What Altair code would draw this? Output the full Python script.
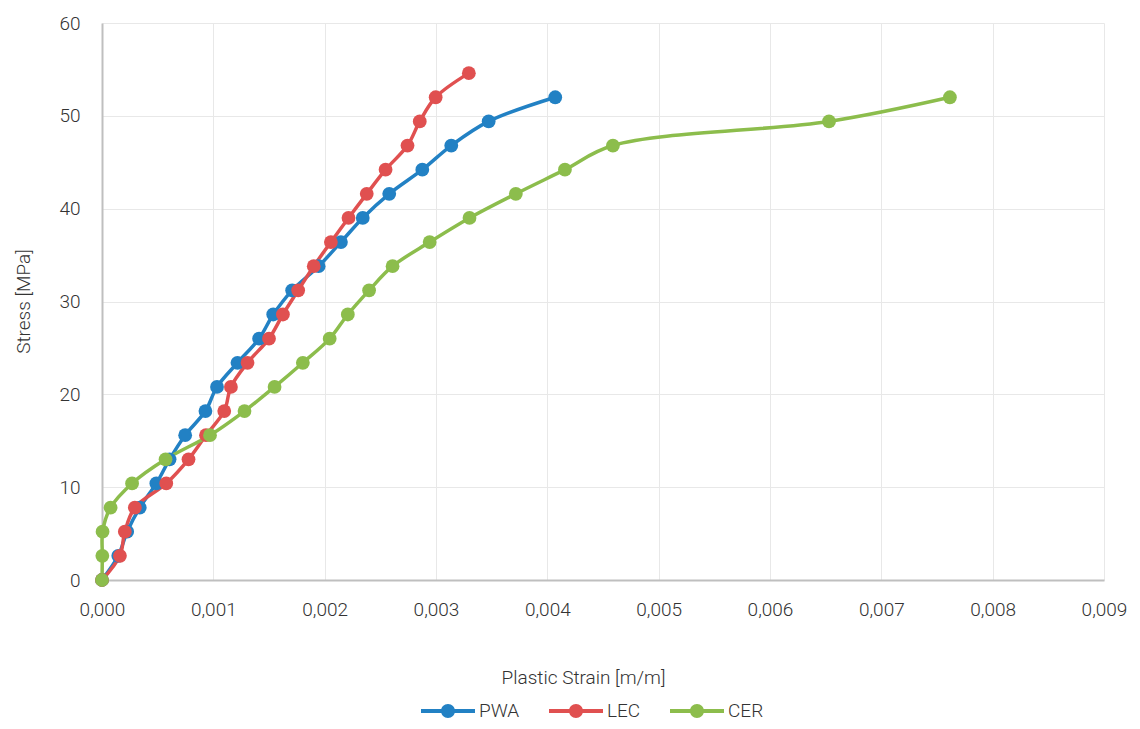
import altair as alt
import pandas as pd

stress = [0, 2.6, 5.2, 7.8, 10.4, 13.0, 15.6, 18.2, 20.8, 23.4, 26.0, 28.6,
          31.2, 33.8, 36.4, 39.0, 41.6, 44.2, 46.8, 49.4, 52.0, 54.6]

pwa_strain = [0, 0.000146, 0.000226, 0.000339, 0.000488, 0.000607, 0.000747,
              0.000929, 0.001033, 0.001217, 0.001411, 0.001538, 0.001708,
              0.001946, 0.002146, 0.002342, 0.002580, 0.002877, 0.003137,
              0.003473, 0.004071]
lec_strain = [0, 0.000161, 0.000205, 0.000295, 0.000577, 0.000777, 0.000934,
              0.001098, 0.001158, 0.001307, 0.001500, 0.001625, 0.001762,
              0.001902, 0.002056, 0.002214, 0.002378, 0.002547, 0.002744,
              0.002854, 0.002997, 0.003295]
cer_strain = [0, 0.000003, 0.000005, 0.000077, 0.000270, 0.000571, 0.000970,
              0.001280, 0.001550, 0.001804, 0.002045, 0.002208, 0.002399,
              0.002610, 0.002943, 0.003301, 0.003717, 0.004158, 0.004589,
              0.006530, 0.007616]

series = ["PWA", "LEC", "CER"]
colors = ["#2281C4", "#E05050", "#8CBD4C"]
x_ticks = [0, 0.001, 0.002, 0.003, 0.004, 0.005, 0.006, 0.007, 0.008, 0.009]
y_ticks = [0, 10, 20, 30, 40, 50, 60]

rows = []
for name, xs in zip(series, [pwa_strain, lec_strain, cer_strain]):
    for i, xv in enumerate(xs):
        rows.append({"series": name, "strain": xv, "stress": stress[i], "idx": i})
df = pd.DataFrame(rows)

FONT = "Roboto"
TXT = "#333333"
FS = 19

x_enc = alt.X("strain:Q",
              scale=alt.Scale(domain=[0, 0.009], nice=False, zero=True),
              axis=alt.Axis(values=x_ticks, title="Plastic Strain [m/m]",
                            labelExpr="replace(format(datum.value, '.3f'), '.', ',')",
                            labelFlush=False, labelOverlap=False,
                            titleX=481, titleY=97, titleBaseline="middle",
                            titleAlign="center"))
y_enc = alt.Y("stress:Q",
              scale=alt.Scale(domain=[0, 60], nice=False),
              axis=alt.Axis(values=y_ticks, title="Stress [MPa]",
                            labelFlush=False, labelOverlap=False,
                            titleX=-79, titleY=278, titleAngle=-90,
                            titleBaseline="middle", titleAlign="center"))
color_scale = alt.Scale(domain=series, range=colors)

legend_sym = ("M-2.7,-0.2 L2.7,-0.2 L2.7,0.2 L-2.7,0.2 Z "
              "M-0.7,0 A0.7,0.7 0 1,1 0.7,0 A0.7,0.7 0 1,1 -0.7,0 Z")

lines = alt.Chart(df).mark_line(strokeWidth=3.5, interpolate="catmull-rom").encode(
    x=x_enc, y=y_enc,
    color=alt.Color("series:N", scale=color_scale),
    order=alt.Order("idx:Q"),
)
points = alt.Chart(df).mark_point(filled=True, size=190, opacity=1).encode(
    x=x_enc, y=y_enc,
    color=alt.Color("series:N", scale=color_scale,
                    legend=alt.Legend(title=None, orient="none", direction="horizontal",
                                      legendX=336, legendY=678, padding=0,
                                      symbolType=legend_sym, symbolSize=400,
                                      symbolStrokeWidth=0, symbolOpacity=1,
                                      labelFont=FONT, labelFontSize=FS,
                                      labelColor=TXT, labelFontWeight=300,
                                      labelOffset=21, columnPadding=29)),
)

chart = alt.layer(lines, points).properties(
    width=1002, height=557,
    autosize=alt.AutoSizeParams(type="none"),
    padding={"left": 94, "top": 15, "right": 28, "bottom": 141},
).configure_view(stroke=None).configure_axis(
    labelFont=FONT, titleFont=FONT, labelFontSize=FS, titleFontSize=FS,
    labelColor=TXT, titleColor=TXT, labelFontWeight=300, titleFontWeight=300,
    gridColor="#E8E8E8", gridWidth=1, domainColor="#BFBFBF", domainWidth=2,
    ticks=False,
).configure_axisX(labelPadding=20).configure_axisY(labelPadding=22)

chart.save("out.html", embed_options={"renderer": "svg", "actions": False})
